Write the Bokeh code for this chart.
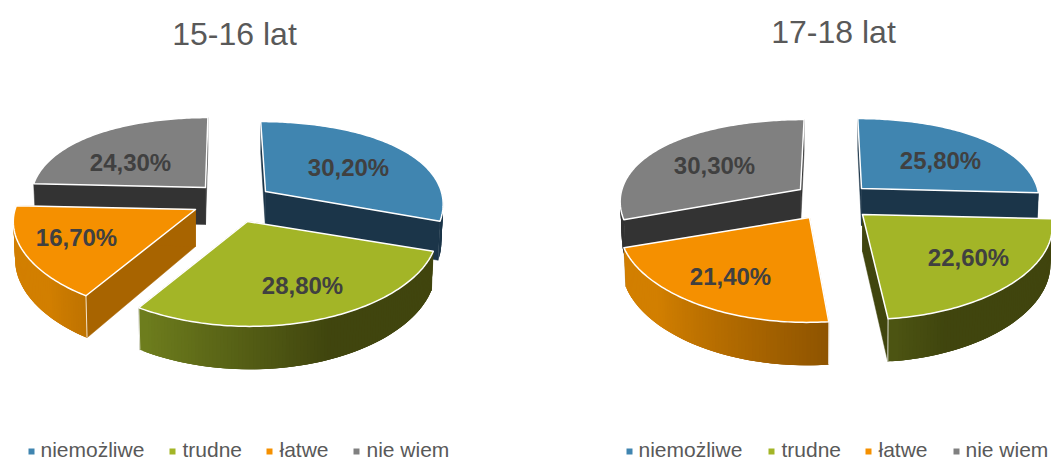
import math
from bokeh.plotting import figure
from bokeh.embed import file_html
from bokeh.resources import INLINE
from bokeh.core.properties import value

# ---- data
categories = ["niemożliwe", "trudne", "łatwe", "nie wiem"]
titles = ["15-16 lat", "17-18 lat"]
values_15_16 = [30.2, 28.8, 16.7, 24.3]
values_17_18 = [25.8, 22.6, 21.4, 30.3]

# ---- styles
TOP = ["#4085b0", "#a3b527", "#f59000", "#808080"]
WALL = ["#1b3549", "#40450e", "#a86400", "#333333"]
ARC_LIGHT = ["#1b3549", "#7d9022", "#d27f00", "#333333"]
ARC_DARK = ["#1b3549", "#40450e", "#7a4700", "#333333"]
TEXT_DARK = "#404040"
TEXT_GREY = "#595959"
FONT = value("Liberation Sans")

# ---- layout (pixels)
RX, RY, KX, KY = 188, 87.4, 0.12, 0.20
D, KD = 37, 0.16
CHARTS = [
    dict(vals=values_15_16, vx=225, title=titles[0], tx=234, ty=33,
         apex=[(265, 191), (247, 221), (195, 209), (205, 187)],
         scale=[0.935, 1.0, 0.96, 0.92],
         order=[3, 0, 2, 1],
         labels=[(348, 167), (302, 285), (76, 237), (130, 162)],
         markers=[31, 172, 269, 356], texts=[40, 182, 279, 366]),
    dict(vals=values_17_18, vx=830, title=titles[1], tx=833, ty=31,
         apex=[(861, 188), (862, 214), (809, 217), (800, 189)],
         scale=[0.936, 1.0, 1.0, 0.95],
         order=[0, 3, 2, 1],
         labels=[(940, 160), (968, 257), (730, 276), (714, 165)],
         markers=[629, 771, 868, 956], texts=[638, 781, 878, 965]),
]

p = figure(width=1051, height=462, x_range=(0, 1051), y_range=(462, 0),
           output_backend="svg", toolbar_location=None, min_border=0,
           outline_line_color=None, background_fill_color="white")
p.axis.visible = False
p.grid.visible = False
p.styles = {"position": "absolute", "left": "0px", "top": "0px"}


def top_pt(apex, vx, deg, sc):
    """Point of the perspective-projected top face at clockwise angle deg."""
    t = math.radians(deg)
    u, v = math.sin(t), -math.cos(t)
    x = apex[0] + RX * sc * u * (1 + KX * v) + (apex[0] - vx) * KX * v
    y = apex[1] + RY * v * (1 + KY * v)
    return x, y


def bottom_pt(apex, pt, v):
    return apex[0] + (pt[0] - apex[0]) * 0.99, pt[1] + D * (1 + KD * v)


def mix(a, b, t):
    ca = [int(a[i:i + 2], 16) for i in (1, 3, 5)]
    cb = [int(b[i:i + 2], 16) for i in (1, 3, 5)]
    return "#%02x%02x%02x" % tuple(round(x + (y - x) * t) for x, y in zip(ca, cb))


def depth_v(deg):
    return -math.cos(math.radians(deg))


for ch in CHARTS:
    vals = ch["vals"]
    total = sum(vals)
    starts, acc = [], 0.0
    for v in vals:
        starts.append(acc / total * 360)
        acc += v

    for i in ch["order"]:
        a0 = starts[i]
        a1 = a0 + vals[i] / total * 360
        apex = ch["apex"][i]
        sc = ch["scale"][i]
        bapex = (apex[0], apex[1] + D)

        # radial walls
        for a in (a0, a1):
            t_pt = top_pt(apex, ch["vx"], a, sc)
            b_pt = bottom_pt(apex, t_pt, depth_v(a))
            p.patch([apex[0], t_pt[0], b_pt[0], bapex[0]],
                    [apex[1], t_pt[1], b_pt[1], bapex[1]],
                    fill_color=WALL[i], line_color=WALL[i], line_width=0.5)

        # outer curved wall, painted as overlapping strips so no seams show
        xs, ys, cols = [], [], []
        n = max(2, int(a1 - a0))
        angs = [a0 + (a1 - a0) * k / n for k in range(n + 1)]
        step = (a1 - a0) / n
        for s, e in zip(angs[:-1], angs[1:]):
            mid = (s + e) / 2
            if depth_v(mid) < 0.02:
                continue
            # overlap over the neighbour already painted
            s2 = max(a0, s - 2 * step)
            t1, t2 = top_pt(apex, ch["vx"], s2, sc), top_pt(apex, ch["vx"], e, sc)
            b1, b2 = bottom_pt(apex, t1, depth_v(s2)), bottom_pt(apex, t2, depth_v(e))
            xs.append([t1[0], t2[0], b2[0], b1[0]])
            ys.append([t1[1], t2[1], b2[1], b1[1]])
            lit = min(1.0, max(0.0, (mid - 160) / 70))
            cols.append(mix(ARC_DARK[i], ARC_LIGHT[i], lit))
        if xs:
            p.patches(xs, ys, fill_color=cols, line_color=None)

        # white vertical corners on the near edges
        for a in (a0, a1):
            if depth_v(a) > 0.5:
                t_pt = top_pt(apex, ch["vx"], a, sc)
                b_pt = bottom_pt(apex, t_pt, depth_v(a))
                p.line([t_pt[0], b_pt[0]], [t_pt[1], b_pt[1]],
                       line_color="white", line_width=1, line_alpha=0.8)

        # top face
        pts = [top_pt(apex, ch["vx"], a, sc) for a in angs]
        p.patch([apex[0]] + [q[0] for q in pts],
                [apex[1]] + [q[1] for q in pts],
                fill_color=TOP[i], line_color="white", line_width=1.5,
                line_join="round")

    # data labels
    p.text([q[0] for q in ch["labels"]], [q[1] for q in ch["labels"]],
           text=[f"{v:.2f}".replace(".", ",") + "%" for v in vals],
           text_font=FONT, text_font_style="bold", text_font_size="24px",
           text_color=TEXT_DARK, text_align="center", text_baseline="middle")

    # title
    p.text([ch["tx"]], [ch["ty"]], text=[ch["title"]], text_font=FONT,
           text_font_size="32px", text_color=TEXT_GREY,
           text_align="center", text_baseline="middle")

    # legend
    p.scatter(ch["markers"], [451] * 4, marker="square", size=6,
              fill_color=TOP, line_color=None)
    p.text(ch["texts"], [449] * 4, text=categories, text_font=FONT,
           text_font_size="21px", text_color=TEXT_GREY,
           text_align="left", text_baseline="middle")

open("out.html", "w").write(file_html(p, INLINE))
